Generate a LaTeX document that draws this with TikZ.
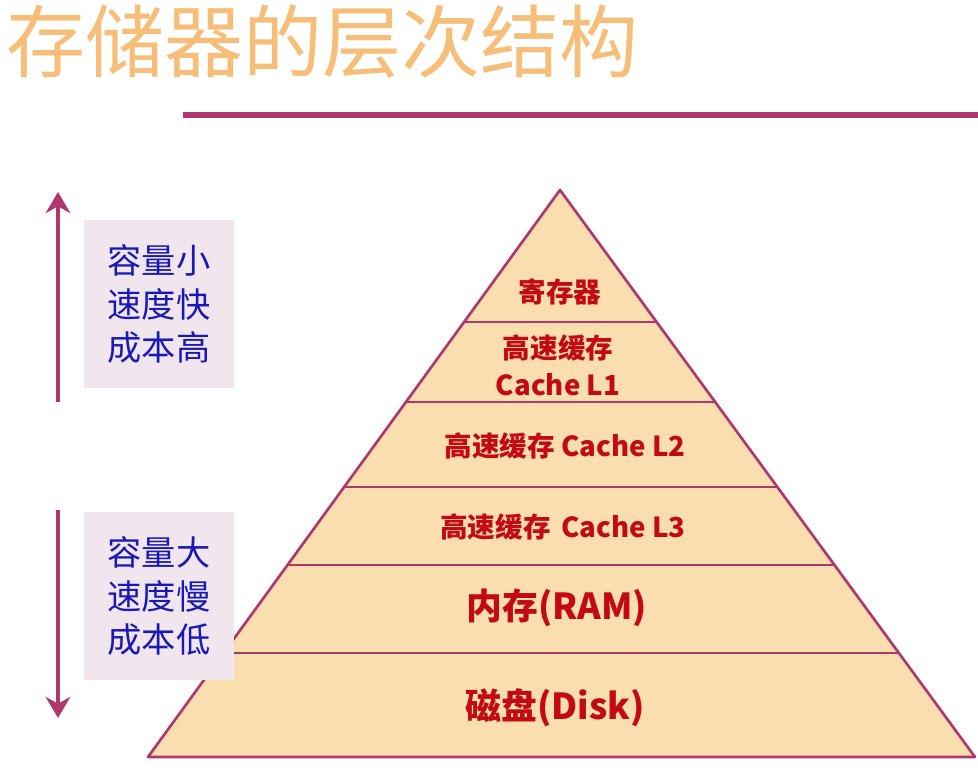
\documentclass[tikz,border=0pt]{standalone}
\usepackage{fontspec}
\newfontfamily\cjk{Noto Sans CJK SC}
\usetikzlibrary{arrows.meta}
\definecolor{plum}{RGB}{175,55,110}
\definecolor{sand}{RGB}{250,222,175}
\definecolor{darkred}{RGB}{195,10,20}
\definecolor{ink}{RGB}{25,25,185}
\definecolor{pale}{RGB}{242,230,238}
\definecolor{peach}{RGB}{246,190,120}

\begin{document}
\begin{tikzpicture}[x=0.02cm,y=-0.02cm,
        level/.style={font=\cjk\bfseries\fontsize{15.7}{21}\selectfont,text=darkred,align=center},
        big/.style={level,font=\cjk\bfseries\fontsize{20.4}{22}\selectfont},
        note/.style={fill=pale,minimum width=3cm,minimum height=3.36cm,font=\cjk\fontsize{19.5}{25}\selectfont,text=ink,align=center}]
        \useasboundingbox (0,0) rectangle (978,770);
        \node[anchor=west,font=\cjk\fontsize{45}{45}\selectfont,text=peach] (title) at (0,42) {存储器的层次结构};
        \draw[plum,line width=3pt] (183,115) -- (978,115);

        % pyramid
        \coordinate (top) at (560,190);
        \coordinate (bl) at (148,757);
        \coordinate (br) at (975,757);
        \filldraw[fill=sand,draw=plum,line width=1.5pt,line join=round] (top) -- (bl) -- (br) -- cycle;
        \begin{scope}[plum,line width=1.5pt]
            \draw (464,322) -- (657,322);
            \draw (406,402) -- (715,402);
            \draw (344,487) -- (777,487);
            \draw (288,565) -- (834,565);
            \draw (224,653) -- (899,653);
        \end{scope}

        \node[level] (reg) at (560,292) {寄存器};
        \node[level] (L1) at (558,365) {高速缓存\\Cache L1};
        \node[level] (L2) at (565,446) {高速缓存 Cache L2};
        \node[level] (L3) at (563,527) {高速缓存 \,Cache L3};
        \node[big] (ram) at (557,608) {内存(RAM)};
        \node[big] (disk) at (555,708) {磁盘(Disk)};

        % side notes
        \node[note] (fast) at (159,304) {容量小\\速度快\\成本高};
        \node[note] (slow) at (159,596) {容量大\\速度慢\\成本低};
        \coordinate (upA) at (58,402);
        \coordinate (upB) at (58,192);
        \coordinate (dnA) at (58,510);
        \coordinate (dnB) at (58,718);
        \draw[plum,line width=2.5pt,-{Stealth[length=12pt,width=14pt]}] (upA) -- (upB);
        \draw[plum,line width=2.5pt,-{Stealth[length=12pt,width=14pt]}] (dnA) -- (dnB);
\end{tikzpicture}
\end{document}
